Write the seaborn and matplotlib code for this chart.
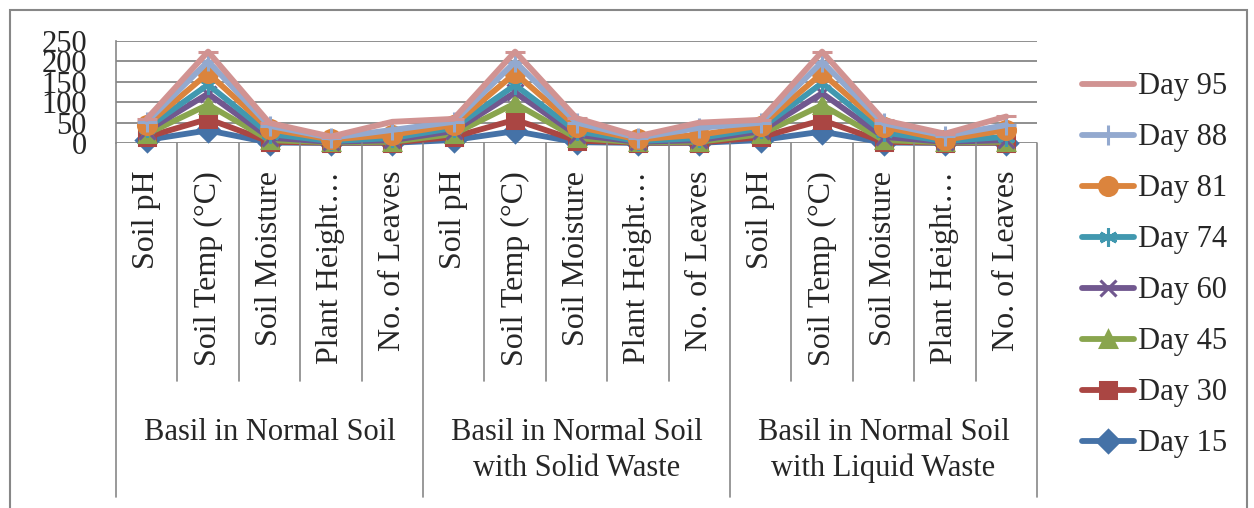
import matplotlib
matplotlib.use("Agg")
import matplotlib.pyplot as plt
import matplotlib.transforms as mtransforms
from matplotlib.patches import Rectangle
import numpy as np
import seaborn as sns

# Categories
groups = [
    "Basil in Normal Soil",
    "Basil in Normal Soil\nwith Solid Waste",
    "Basil in Normal Soil\nwith Liquid Waste",
]
measures = ["Soil pH", "Soil Temp (°C)", "Soil Moisture", "Plant Height…", "No. of Leaves"]

# Raw readings per day (pH, temp, moisture, height, leaves) x 3 groups
day_15 = [7.4, 31, 1, 0.3, 0.5, 7.3, 29, 2, 0.3, 0.5, 7.1, 28, 1, 0.3, 0.5]
day_30 = [7.2, 28, 2, 0.5, 0.5, 7.5, 28, 4, 0.5, 0.5, 7.0, 28, 2, 0.5, 0.5]
day_45 = [7.5, 35, 4, 0.8, 2, 7.2, 40, 6, 0.8, 2, 7.2, 37, 4, 0.8, 2]
day_60 = [7.3, 27, 6, 1.2, 4, 7.4, 27, 8, 1.2, 4, 7.3, 29, 8, 1.2, 4]
day_74 = [7.1, 22, 9, 2, 5, 7.6, 18, 9, 2, 5, 6.9, 25, 11, 2, 8]
day_81 = [7.6, 28, 12, 4, 8, 7.3, 29, 11, 4, 8, 7.1, 24, 14, 3, 17]
day_88 = [7.4, 29, 8, 4, 12, 7.5, 28, 10, 4, 17, 7.0, 28, 8, 10, 12]
day_95 = [7.5, 24, 7, 3, 20, 7.4, 25, 11, 4, 13, 7.2, 25, 8, 5, 21]

day_labels = ["Day 15", "Day 30", "Day 45", "Day 60", "Day 74", "Day 81", "Day 88", "Day 95"]
day_values = [day_15, day_30, day_45, day_60, day_74, day_81, day_88, day_95]

colors = ["#4572A7", "#AA4643", "#89A54E", "#71588F", "#4198AF", "#DB843D", "#93A9CF", "#D19392"]
markers = ["D", "s", "^", "x", (6, 2, 0), "o", "+", "_"]
marker_sizes = [11, 11, 12, 11, 13, 13, 14, 14]

sns.set_style("white")
plt.rcParams["font.family"] = ["Liberation Serif", "DejaVu Serif"]

W, H = 1254, 508
fig = plt.figure(figsize=(W / 100, H / 100), dpi=100)
ax = fig.add_axes([116 / W, 1 - 143 / H, (1037 - 116) / W, (143 - 41) / H])

x = np.arange(len(groups) * len(measures))

# Excel "stacked line": each series sits on top of the previous ones
stacked = np.cumsum(np.array(day_values), axis=0)

for label, vals, col, mk, ms in zip(day_labels, stacked, colors, markers, marker_sizes):
    sns.lineplot(
        x=x, y=vals, ax=ax, color=col, linewidth=4.2, marker=mk, markersize=ms,
        markeredgecolor=col, markerfacecolor=col, markeredgewidth=2.2,
        label=label, sort=False, clip_on=False,
    )
h, l = ax.get_legend_handles_labels()
ax.get_legend().remove()

ax.set_xlim(-0.5, len(x) - 0.5)
ax.set_ylim(0, 250)
ax.set_yticks(range(0, 251, 50))
ax.tick_params(axis="y", labelsize=22, length=7, width=1.2, color="#878787", pad=14)
ax.yaxis.grid(True, color="#878787", linewidth=1.3)
ax.set_axisbelow(True)
for s in ["top", "right", "bottom"]:
    ax.spines[s].set_visible(False)
ax.spines["left"].set_color("#878787")
ax.spines["left"].set_linewidth(1.2)

ax.set_xticks(x)
ax.set_xticklabels(measures * len(groups), rotation=90, fontsize=23)
ax.tick_params(axis="x", length=0, pad=20)
ax.set_xlabel("")
ax.set_ylabel("")

# category separators below the axis
trans = mtransforms.blended_transform_factory(ax.transData, fig.transFigure)
y_top = 1 - 143 / H
for i in range(len(x) + 1):
    y_bot = 1 - 497 / H if i % len(measures) == 0 else 1 - 381 / H
    ax.plot([i - 0.5, i - 0.5], [y_top, y_bot], transform=trans, color="#878787",
            linewidth=1.2, clip_on=False)

# group labels
for g, name in enumerate(groups):
    cx = g * len(measures) + (len(measures) - 1) / 2
    ax.text(cx, 1 - 418 / H, name, transform=trans, ha="center", va="top",
            fontsize=22, linespacing=1.3)

fig.legend(h[::-1], l[::-1], loc="upper left", bbox_to_anchor=(1070 / W, 1 - 60 / H),
           frameon=False, fontsize=22, handlelength=1.7, handletextpad=0.12,
           labelspacing=0.72, borderaxespad=0)

# chart area border (bottom edge runs off the image, as in the original)
fig.add_artist(Rectangle((10 / W, -4 / H), (1247 - 10) / W, (508 - 10 + 4) / H,
                         transform=fig.transFigure, fill=False, edgecolor="#878787",
                         linewidth=1.5, clip_on=False))

fig.savefig("out.png", dpi=100)
